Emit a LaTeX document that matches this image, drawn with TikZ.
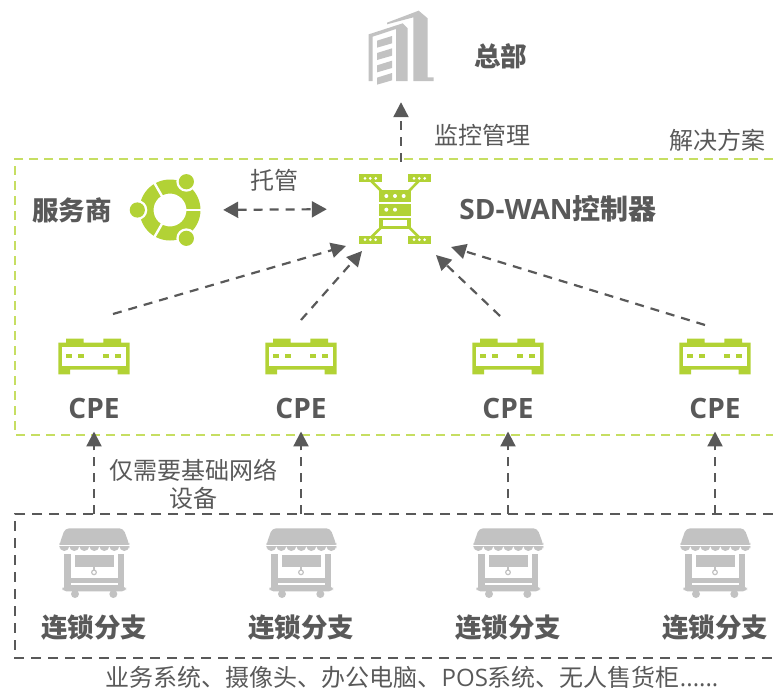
\documentclass[tikz,border=0pt]{standalone}
\usepackage{fontspec}
\setmainfont{Open Sans}
\newfontfamily\cjk{Noto Sans CJK SC}
\usetikzlibrary{positioning, arrows.meta}

\definecolor{leaf}{HTML}{B2D235}
\definecolor{leafline}{HTML}{C6DE62}
\definecolor{ink}{HTML}{595959}
\definecolor{stone}{HTML}{C2C2C2}

\tikzset{
    big label/.style={inner sep=0pt, text=ink, font=\fontsize{26.5}{30}\selectfont\bfseries},
    wide label/.style={inner sep=0pt, text=ink, font=\fontsize{28}{30}\selectfont\bfseries},
    small label/.style={inner sep=0pt, text=ink, align=center, font=\fontsize{24}{28}\selectfont},
    flow/.style={draw=ink, line width=2.2pt, dash pattern=on 9pt off 7pt, -{Triangle[length=15pt,width=15pt]}},
    both flow/.style={flow, {Triangle[length=15pt,width=16pt]}-{Triangle[length=15pt,width=16pt]}},
    cpe box/.style={inner sep=0pt, minimum width=71pt, minimum height=36pt},
    store box/.style={inner sep=0pt, minimum width=68pt, minimum height=71pt},
    cpe icon/.pic={
        \begin{scope}[scale=1/3, shift={(-164,-92)}]
            \fill[leaf] (57,52) -- (80,52) -- (80,40) -- (133,40) -- (133,52) -- (192,52) -- (192,40) -- (245,40) -- (245,52) -- (271,52) -- (271,147) -- (235,147) -- (235,133) -- (92,133) -- (92,147) -- (57,147) -- cycle;
            \fill[white] (69,65) rectangle (259,122);
            \fill[leaf] (80,87) rectangle (97,98);
            \fill[leaf] (115,87) rectangle (133,98);
            \fill[leaf] (192,87) rectangle (210,98);
            \fill[leaf] (228,87) rectangle (245,98);
        \end{scope}
    },
    store icon/.pic={
        \begin{scope}[scale=1/3, shift={(-192,-150)}]
            \fill[stone, rounded corners=4pt] (88,110) -- (88,104) -- (105,55) -- (280,55) -- (298,104) -- (298,110) -- cycle;
            \fill[white] (85,104) rectangle (301,108);
            \foreach \i in {103,133,163,193,223,253,283} {
                \fill[stone] (\i-15,108) arc[start angle=180, end angle=0, radius=15];
            }
            \fill[stone] (101,133) rectangle (122,240);
            \fill[stone] (263,133) rectangle (283,240);
            \fill[stone] (135,135) rectangle (252,172);
            \fill[stone] (122,205) rectangle (263,218);
            \fill[stone] (122,225) rectangle (263,240);
            \fill[stone, rounded corners=4pt] (97,229) rectangle (288,244);
            \fill[stone] (135,252) circle (12);
            \fill[stone] (250,252) circle (12);
            \draw[stone, line width=1.2pt] (192,172) -- (192,180);
            \draw[stone, line width=1.2pt] (192,187) circle (7);
        \end{scope}
    },
    partner icon/.pic={
        \fill[leaf, even odd rule] (0,0) circle (30.5) (0,0) circle (16.5);
        \foreach \a in {0,120,240} {
            \draw[white, line width=2.4pt] (0,0) -- (\a:33);
        }
        \foreach \a in {-60,60,180} {
            \fill[white] (\a:32.7) circle (10);
            \fill[leaf] (\a:32.7) circle (7.6);
        }
    },
    controller icon/.pic={
        \begin{scope}[scale=1/3, shift={(-825,-148)}]
            \draw[leaf, line width=2.6pt] (750,60) -- (785,95) (900,60) -- (866,95) (750,236) -- (785,202) (900,236) -- (866,202);
            \foreach \x/\y in {718/44, 865/44, 718/228, 865/228} {
                \fill[leaf] (\x,\y) rectangle +(67,24);
                \foreach \d in {17,33,49} {
                    \fill[white] (\x+\d,\y+12) circle (4.5);
                }
            }
            \fill[leaf] (778,90) rectangle (873,128);
            \fill[leaf] (778,133) rectangle (873,170);
            \fill[leaf] (778,175) rectangle (873,208);
            \fill[white] (790,182) rectangle (862,200);
            \foreach \d in {799,825,851} {
                \fill[white] (\d,109) circle (6);
            }
            \foreach \d in {799,825} {
                \fill[white] (\d,150) circle (6);
            }
        \end{scope}
    },
    hq icon/.pic={
        \begin{scope}[scale=1/3, shift={(-185,-138)}]
            \fill[stone] (143,68) -- (238,32) -- (265,55) -- (265,232) -- (283,232) -- (283,243) -- (222,243) -- (222,52) -- (143,73) -- cycle;
            \fill[stone] (88,103) -- (190,70) -- (205,85) -- (205,243) -- (170,243) -- (170,87) -- (100,110) -- (100,243) -- (88,243) -- cycle;
            \foreach \y in {0,37,74,111} {
                \fill[stone] (113,122+\y) -- (158,108+\y) -- (158,130+\y) -- (113,143+\y) -- cycle;
            }
        \end{scope}
    },
}

\begin{document}
\begin{tikzpicture}[x=1pt, y=-1pt]
    \useasboundingbox (0,0) rectangle (773,689);

    % dashed areas
    \draw[leafline, line width=1.8pt, dash pattern=on 9pt off 6pt] (773,159) -- (15,159) -- (15,435) -- (773,435);
    \draw[ink, line width=1.6pt, dash pattern=on 10pt off 7pt] (773,514) -- (15,514) -- (15,658) -- (773,658);

    % top row
    \node (hq) at (401,46) [inner sep=0pt, minimum width=66pt, minimum height=72pt] {};
    \pic at (hq.center) {hq icon};
    \node[right=40pt of hq, yshift=-10pt] (hq label) [big label] {\cjk 总部};

    \node (controller) at (395,209) [inner sep=0pt, minimum width=72pt, minimum height=72pt] {};
    \pic at (controller.center) {controller icon};
    \node[right=28pt of controller] (controller label) [wide label] {SD-WAN{\cjk 控制器}};

    \node (partner) at (170,210) [inner sep=0pt, minimum width=74pt, minimum height=74pt] {};
    \pic at (partner.center) {partner icon};
    \node at (72,210) (partner label) [big label] {\cjk 服务商};

    \node at (482,135) (monitor label) [small label] {\cjk 监控管理};
    \node at (717,140) (scheme label) [small label] {\cjk 解决方案};
    \node at (274,180) (hosting label) [small label] {\cjk 托管};

    % cpe row
    \node (cpe 1) at (94,356) [cpe box] {};
    \node (cpe 2) at (301,356) [cpe box] {};
    \node (cpe 3) at (508,356) [cpe box] {};
    \node (cpe 4) at (715,356) [cpe box] {};
    \pic at (cpe 1.center) {cpe icon};
    \pic at (cpe 2.center) {cpe icon};
    \pic at (cpe 3.center) {cpe icon};
    \pic at (cpe 4.center) {cpe icon};
    \node[below=52pt of cpe 1.center, anchor=center] (cpe label 1) [wide label] {CPE};
    \node[below=52pt of cpe 2.center, anchor=center] (cpe label 2) [wide label] {CPE};
    \node[below=52pt of cpe 3.center, anchor=center] (cpe label 3) [wide label] {CPE};
    \node[below=52pt of cpe 4.center, anchor=center] (cpe label 4) [wide label] {CPE};

    % store row
    \node (store 1) at (94,560) [store box] {};
    \node (store 2) at (301,560) [store box] {};
    \node (store 3) at (508,560) [store box] {};
    \node (store 4) at (715,560) [store box] {};
    \pic at (store 1.center) {store icon};
    \pic at (store 2.center) {store icon};
    \pic at (store 3.center) {store icon};
    \pic at (store 4.center) {store icon};
    \node[below=68pt of store 1.center, anchor=center] (store label 1) [big label] {\cjk 连锁分支};
    \node[below=68pt of store 2.center, anchor=center] (store label 2) [big label] {\cjk 连锁分支};
    \node[below=68pt of store 3.center, anchor=center] (store label 3) [big label] {\cjk 连锁分支};
    \node[below=68pt of store 4.center, anchor=center] (store label 4) [big label] {\cjk 连锁分支};

    \node at (193,484) (basic label) [small label] {\cjk 仅需要基础网络\\\cjk 设备};
    \node at (412,677) (devices label) [small label] {\cjk 业务系统、摄像头、办公电脑、{\rmfamily POS}系统、无人售货柜{\rmfamily ......}};

    % ends of the slanted connectors
    \coordinate (cpe 1 out) at (113,314);
    \coordinate (cpe 2 out) at (301,320);
    \coordinate (cpe 3 out) at (500,316);
    \coordinate (cpe 4 out) at (705,325);
    \coordinate (controller in 1) at (346,246);
    \coordinate (controller in 2) at (362,251);
    \coordinate (controller in 3) at (436,255);
    \coordinate (controller in 4) at (451,247);

    \draw[flow] (cpe 1 out) -- (controller in 1);
    \draw[flow] (cpe 2 out) -- (controller in 2);
    \draw[flow] (cpe 3 out) -- (controller in 3);
    \draw[flow] (cpe 4 out) -- (controller in 4);

    \draw[flow, shorten <=11pt, shorten >=20pt] ([xshift=6pt]controller.north) -- (hq.south);
    \draw[both flow, shorten <=16pt, shorten >=32pt] (partner.east) -- (controller.west);

    \draw[flow, shorten <=10pt, shorten >=13pt] (store 1.north) -- (cpe label 1.south);
    \draw[flow, shorten <=10pt, shorten >=13pt] (store 2.north) -- (cpe label 2.south);
    \draw[flow, shorten <=10pt, shorten >=13pt] (store 3.north) -- (cpe label 3.south);
    \draw[flow, shorten <=10pt, shorten >=13pt] (store 4.north) -- (cpe label 4.south);
\end{tikzpicture}
\end{document}
